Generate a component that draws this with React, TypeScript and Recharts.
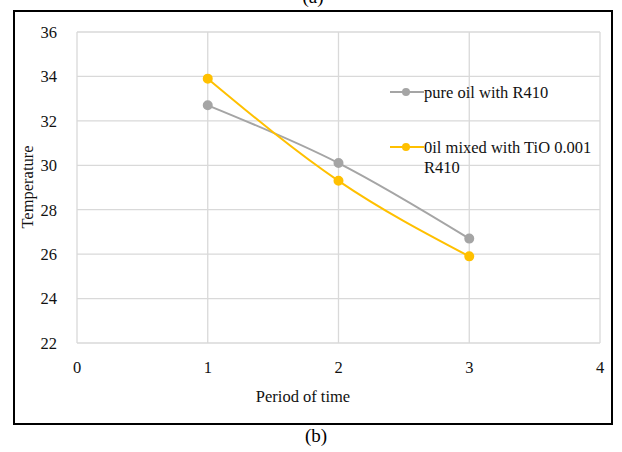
import { LineChart, Line, XAxis, YAxis, CartesianGrid } from 'recharts'

const periods = [1, 2, 3]
const pureOil = [32.7, 30.1, 26.7]
const oilTiO = [33.9, 29.3, 25.9]
const xTicks = [0, 1, 2, 3, 4]
const yTicks = [22, 24, 26, 28, 30, 32, 34, 36]

const seriesNames = ['pure oil with R410', '0il mixed with TiO 0.001 R410']
const GRAY = '#A5A5A5'
const GOLD = '#FFC000'
const INK = '#111'
const FONT = '"Liberation Serif", "Times New Roman", serif'

const data = periods.map((p, i) => ({ period: p, pure: pureOil[i], mixed: oilTiO[i] }))

const LegendRow = ({ color, top, children }: any) => (
  <div style={{ position: 'absolute', left: 390, top, display: 'flex', alignItems: 'flex-start' }}>
    <div style={{ position: 'relative', width: 34, height: 18, flexShrink: 0 }}>
      <div style={{ position: 'absolute', left: 0, top: 8, width: 34, height: 2, background: color }} />
      <div style={{ position: 'absolute', left: 12, top: 5, width: 8, height: 8, borderRadius: 4, background: color }} />
    </div>
    <div style={{ fontFamily: FONT, fontSize: 16.5, lineHeight: '20px', color: INK, width: 190 }}>{children}</div>
  </div>
)

export default function App() {
  return (
    <div style={{ position: 'absolute', left: 0, top: 0, width: 622, height: 452, background: '#fff', fontFamily: FONT, overflow: 'hidden' }}>
      {/* captions */}
      <div style={{ position: 'absolute', left: 0, width: 626, top: -14, textAlign: 'center', fontSize: 19 }}>(a)</div>
      <div style={{ position: 'absolute', left: 0, width: 632, top: 425, textAlign: 'center', fontSize: 19 }}>(b)</div>

      {/* frame */}
      <div style={{ position: 'absolute', left: 13, top: 10, width: 596, height: 411, border: '2px solid #000' }} />

      <div style={{ position: 'absolute', left: 0, top: 0 }}>
        <LineChart width={622} height={452} data={data} margin={{ top: 32, right: 22, bottom: 79, left: 27 }}>
          <CartesianGrid stroke="#D9D9D9" strokeWidth={1.3} />
          <XAxis
            dataKey="period"
            type="number"
            domain={[0, 4]}
            ticks={xTicks}
            axisLine={false}
            tickLine={false}
            height={30}
            tickMargin={12}
            tick={{ fontSize: 16.5, fill: INK, fontFamily: FONT }}
          />
          <YAxis
            type="number"
            domain={[22, 36]}
            ticks={yTicks}
            axisLine={false}
            tickLine={false}
            width={50}
            tickMargin={14}
            tick={{ fontSize: 16.5, fill: INK, fontFamily: FONT }}
          />
          <Line
            dataKey="pure"
            name={seriesNames[0]}
            type="monotone"
            stroke={GRAY}
            strokeWidth={2}
            dot={{ r: 4, fill: GRAY, stroke: GRAY }}
            isAnimationActive={false}
          />
          <Line
            dataKey="mixed"
            name={seriesNames[1]}
            type="monotone"
            stroke={GOLD}
            strokeWidth={2}
            dot={{ r: 4, fill: GOLD, stroke: GOLD }}
            isAnimationActive={false}
          />
        </LineChart>
      </div>

      {/* axis titles */}
      <div style={{ position: 'absolute', left: 28, top: 187, transform: 'translate(-50%, -50%) rotate(-90deg)', fontSize: 16.5, color: INK, whiteSpace: 'nowrap' }}>
        Temperature
      </div>
      <div style={{ position: 'absolute', left: 303, top: 397, transform: 'translate(-50%, -50%)', fontSize: 16.5, color: INK, whiteSpace: 'nowrap' }}>
        Period of time
      </div>

      {/* legend */}
      <LegendRow color={GRAY} top={83}>{seriesNames[0]}</LegendRow>
      <LegendRow color={GOLD} top={138}>{seriesNames[1]}</LegendRow>
    </div>
  )
}
